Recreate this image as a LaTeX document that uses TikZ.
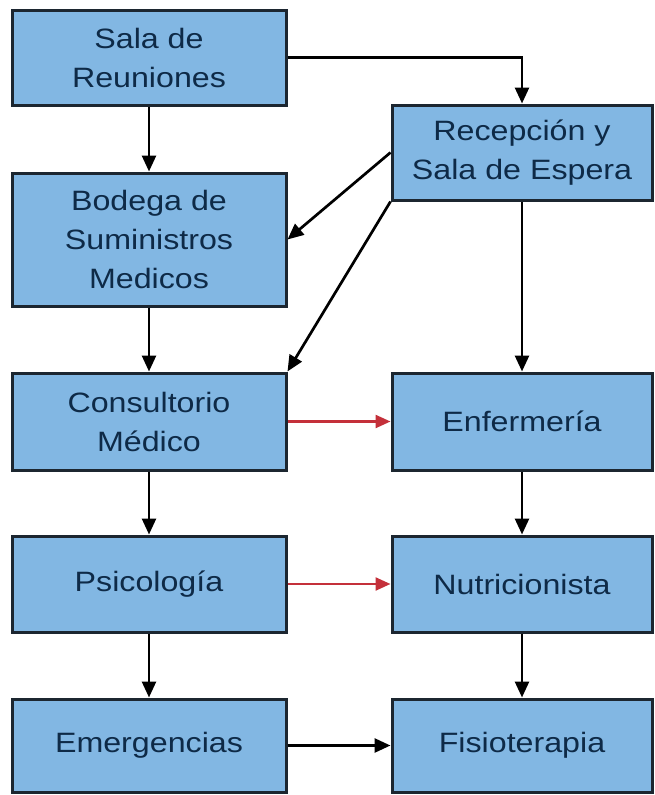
\documentclass[tikz,border=0pt]{standalone}
\usepackage{fontspec}
\newfontfamily\boxfont[FakeStretch=1.15]{Liberation Sans}
\usetikzlibrary{arrows.meta,shadows}
\definecolor{boxfill}{HTML}{82B7E3}
\definecolor{boxline}{HTML}{1C2630}
\definecolor{boxtext}{HTML}{0E2A47}
\definecolor{redarrow}{HTML}{C4303A}
\tikzset{
  roombox/.style={draw=boxline, line width=3pt, fill=boxfill, text=boxtext,
    align=center, inner sep=2pt, anchor=center,
    font=\boxfont\fontsize{28}{39}\selectfont,
    drop shadow={shadow xshift=1.5pt, shadow yshift=-1.8pt, opacity=0.4}},
  leftbox/.style={roombox, minimum width=274pt},
  rightbox/.style={roombox, minimum width=260pt},
  blackflow/.style={draw=black, line width=2.7pt, -{Triangle[length=16pt,width=14pt]}},
  redflow/.style={draw=redarrow, line width=2.4pt, -{Triangle[length=15pt,width=13pt]}}
}
\begin{document}
\begin{tikzpicture}[x=1pt,y=1pt]
\useasboundingbox (0,0) rectangle (655,-795);
\node[leftbox, minimum height=95pt] (sala) at (149,-57.5) {Sala de\\Reuniones};
\node[rightbox, minimum height=95pt] (recep) at (522,-152.5) {Recepción y\\Sala de Espera};
\node[leftbox, minimum height=133pt] (bodega) at (149,-239.5) {Bodega de\\Suministros\\Medicos};
\node[leftbox, minimum height=97pt] (consult) at (149,-421.5) {Consultorio\\Médico};
\node[rightbox, minimum height=97pt] (enferm) at (522,-421.5) {Enfermería};
\node[leftbox, minimum height=96pt] (psico) at (149,-584) {Psicología};
\node[rightbox, minimum height=96pt] (nutri) at (522,-584) {Nutricionista};
\node[leftbox, minimum height=93pt] (emerg) at (149,-745.5) {Emergencias};
\node[rightbox, minimum height=93pt] (fisio) at (522,-745.5) {Fisioterapia};

\draw[blackflow] (sala.east) -| (recep.north);
\draw[blackflow] (sala.south) -- (bodega.north);
\draw[blackflow] (recep.west) -- (bodega.east);
\draw[blackflow] (recep.south west) -- (consult.north east);
\draw[blackflow] (recep.south) -- (enferm.north);
\draw[blackflow] (bodega.south) -- (consult.north);
\draw[redflow] (consult.east) -- (enferm.west);
\draw[blackflow] (consult.south) -- (psico.north);
\draw[blackflow] (enferm.south) -- (nutri.north);
\draw[redflow] (psico.east) -- (nutri.west);
\draw[blackflow] (psico.south) -- (emerg.north);
\draw[blackflow] (nutri.south) -- (fisio.north);
\draw[blackflow] (emerg.east) -- (fisio.west);
\end{tikzpicture}
\end{document}
